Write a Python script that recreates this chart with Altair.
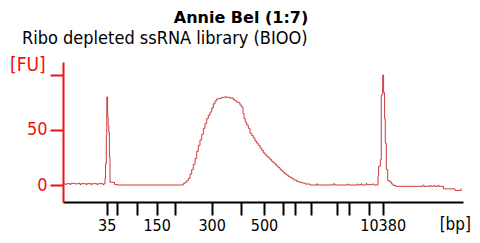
import altair as alt
import pandas as pd

# Electropherogram trace: migration time [s] and fluorescence [FU]
time_s = [43.1, 43.4, 43.7, 44.2, 44.4, 44.6, 45.2, 45.4, 46.0, 46.4, 46.6, 47.6, 47.8,
          48.6, 48.8, 49.8, 50.0, 51.0, 51.2, 51.4, 51.5, 51.66, 51.76, 51.92, 52.04,
          52.16, 52.28, 52.4, 53.0, 53.3, 53.8, 66.5,
          67.06, 67.4, 67.74, 68.06, 68.4, 68.74, 69.06, 69.4, 69.74, 70.06, 70.4, 70.74,
          71.06, 71.4, 71.74, 72.06, 72.4, 72.74, 73.06, 73.4, 73.74, 74.06, 74.4, 74.74,
          75.06, 75.4, 75.74, 76.06, 76.4, 76.74, 77.06, 77.4, 77.74, 78.06, 78.4, 78.74,
          79.0, 79.2, 79.46, 79.74, 80.06, 80.4, 80.74, 81.06, 81.4, 81.74, 82.06, 82.4,
          82.74, 83.06, 83.4, 83.74, 84.06, 84.4, 84.74, 85.06, 85.4, 85.74, 86.06, 86.4,
          86.74, 87.06, 87.4, 87.74, 88.06, 88.4, 88.8, 89.2, 89.74, 90.2, 90.8, 91.4,
          92.4, 93.74, 93.94, 97.1, 97.4, 100.0, 100.2, 101.8, 102.0, 102.6, 102.8, 103.6,
          103.8, 104.4, 104.8, 105.2, 106.0, 106.12, 106.46, 106.66, 106.94, 107.12,
          107.32, 107.46, 107.66, 107.94, 108.3, 108.66, 109.0, 109.5, 115.0, 115.2,
          116.4, 116.6, 117.2, 117.4, 118.0, 118.2, 119.1, 121.4, 122.6, 122.76]
fu = [1.2, 0.5, 1.2, 1.2, 0.4, 1.5, 1.5, 1.0, 1.5, 0.3, 1.2, 0.3, 1.2,
      0.3, 1.2, 0.3, 1.2, 0.3, 1.2, 6, 19, 45, 80, 62, 54,
      48, 25, 2.5, 2.5, 0.5, 0, 0,
      1.5, 2.5, 3.8, 6, 9.8, 14, 18.8, 24, 30.6, 36, 41, 46,
      51.5, 56, 60.4, 63.5, 66.3, 70, 73.8, 76.5, 78.3, 78.5, 78.8, 79.5,
      79.7, 80.2, 79.5, 79.8, 78.9, 79.2, 77.5, 76.5, 75.3, 74.8, 72.5, 70.8,
      65, 60.4, 57, 54.5, 51.5, 47, 45, 42.6, 40, 38, 36, 33.6,
      31.5, 29.2, 27.5, 26, 24.7, 23, 21.5, 20.2, 18.8, 17.2, 15.8, 14.3,
      12.8, 11.3, 10, 9, 7.8, 6.9, 5.5, 4.5, 3.3, 2.5, 1.8, 0.9,
      0, 1.0, 0, 1.0, 0, 0.8, 0, 0.8, 0, 1, 0, 1.2,
      0.3, 0.3, 0.8, 0, 8, 17, 23, 82, 100, 84,
      60, 38, 14, 4, 3, 1, -0.3, -1.2, -0.2, -1.2,
      -0.3, -1.2, -0.5, -1.2, -0.3, -1.2, -3.5, -5, -3.5, -3.5]

# Ladder: fragment sizes [bp] and their migration times [s]
ladder_bp = ["35", "50", "100", "150", "200", "300", "400", "500", "600", "700",
             "1000", "2000", "3000", "7000", "10380"]
ladder_time = [51.74, 53.74, 57.86, 61.74, 65.4, 72.74, 78.6, 83.2, 86.94, 89.46,
               92.54, 97.74, 100.14, 104.26, 106.94]
shown_labels = ["35", "150", "300", "500", "10380"]

y_ticks = [0, 50, 100]
y_labels = ["0", "50", ""]

title_text = "Annie Bel (1:7)"
subtitle_text = "Ribo depleted ssRNA library (BIOO)"
y_unit = "[FU]"
x_unit = "[bp]"

FONT = "DejaVu Sans Condensed"
TITLE_FONT = "DejaVu Sans"
AXIS_RED = "#ee1111"
TRACE = "#cc3a3a"

df = pd.DataFrame({"time": time_s, "fu": fu})

parts = []
for t, lab in zip(ladder_time, ladder_bp):
    txt = lab if lab in shown_labels else ""
    parts.append(f"datum.value == {t} ? '{txt}'")
x_label_expr = " : ".join(parts) + " : ''"
y_parts = [f"datum.value == {v} ? '{l}'" for v, l in zip(y_ticks, y_labels)]
y_label_expr = " : ".join(y_parts) + " : ''"

x_scale = alt.Scale(domain=[43, 123], nice=False, zero=False)
y_scale = alt.Scale(domain=[-15.45, 111.8], nice=False, zero=False)

line = alt.Chart(df).mark_line(
    interpolate="step-after", color=TRACE, strokeWidth=1
).encode(
    x=alt.X("time:Q", scale=x_scale, axis=alt.Axis(
        values=ladder_time, labelExpr=x_label_expr, title=None, grid=False,
        domainColor="black", domainWidth=2, tickColor="black", tickWidth=2,
        tickSize=13, labelColor="black", labelFont=FONT, labelFontSize=16,
        labelBaseline="alphabetic", labelPadding=15,
        labelOverlap=False, labelFlush=False)),
    y=alt.Y("fu:Q", scale=y_scale, axis=alt.Axis(
        values=y_ticks, labelExpr=y_label_expr, title=None, grid=False,
        domainColor=AXIS_RED, domainWidth=2, tickColor=AXIS_RED, tickWidth=2,
        tickSize=13, labelColor=AXIS_RED, labelFont=FONT, labelFontSize=18,
        labelPadding=3)),
)

def label(text, x, y, align, size, color="black", weight="normal", font=FONT):
    return alt.Chart(alt.Data(values=[{"t": text}])).mark_text(
        align=align, baseline="alphabetic", font=font, fontSize=size,
        color=color, fontWeight=weight
    ).encode(x=alt.value(x), y=alt.value(y), text="t:N")

chart = alt.layer(
    line,
    label(title_text, 178, -39.2, "center", 16, weight="bold", font=TITLE_FONT),
    label(subtitle_text, -41, -18.5, "left", 18),
    label(y_unit, -53, 9, "left", 19, color=AXIS_RED),
    label(x_unit, 408, 168, "right", 17),
).properties(
    width=400, height=140,
    autosize=alt.AutoSizeParams(type="none"),
    padding={"left": 55, "top": 54, "right": 9, "bottom": 33},
).configure_view(stroke=None)

chart.save("out.html", embed_options={"renderer": "svg", "actions": False})
